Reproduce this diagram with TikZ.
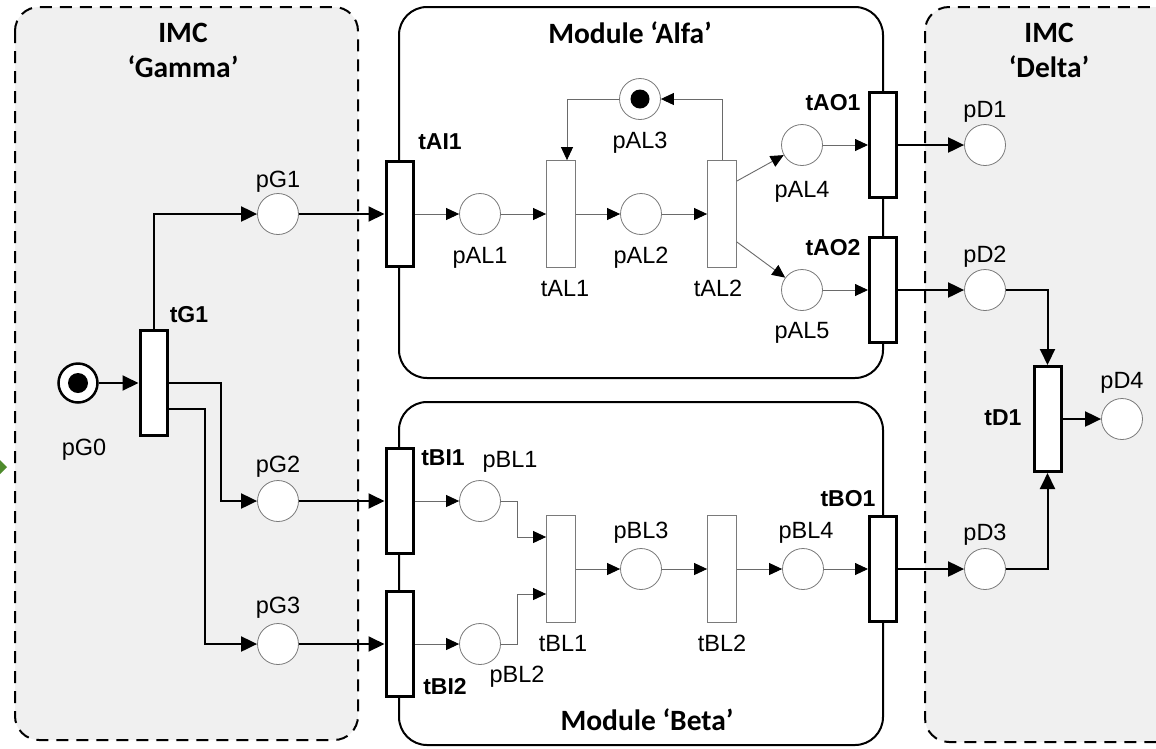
\documentclass[tikz,border=0pt]{standalone}
\usepackage{fontspec}
\setmainfont{Liberation Sans}
\newfontfamily\titlefont{Carlito}
\usetikzlibrary{arrows.meta}
\definecolor{boxfill}{HTML}{F0F0F0}
\definecolor{arcgray}{HTML}{6A6A6A}
\definecolor{ringgray}{HTML}{7A7A7A}
\definecolor{leafgreen}{HTML}{4E8B2C}
\begin{document}
\begin{tikzpicture}[x=1pt,y=-1pt,
  lbl/.style={font=\fontsize{23.5}{26}\selectfont, inner sep=0},
  blbl/.style={font=\fontsize{23}{26}\selectfont\bfseries, inner sep=0},
  ttl/.style={font=\titlefont\fontsize{29.5}{35}\selectfont\bfseries, inner sep=0, align=center},
  place/.style={circle, draw=ringgray, line width=0.8pt, fill=white, minimum size=41pt, inner sep=0},
  mplace/.style={circle, draw=black, line width=2.5pt, fill=white, minimum size=39pt, inner sep=0},
  itrans/.style={rectangle, draw=ringgray, line width=0.8pt, fill=white, minimum width=29pt, minimum height=107pt, inner sep=0},
  btrans/.style={rectangle, draw=black, line width=3pt, fill=white, minimum width=27pt, minimum height=105pt, inner sep=0},
  tk/.style={line width=2pt, -{Triangle[length=16pt,width=15pt]}},
  tn/.style={line width=0.9pt, arcgray, -{Triangle[length=13pt,width=12pt,color=black]}},
  imcbox/.style={draw=black, line width=2pt, dash pattern=on 12pt off 8pt, fill=boxfill, rounded corners=24pt},
  modbox/.style={draw=black, line width=2pt, fill=white, rounded corners=28pt},
]
\useasboundingbox (0,0) rectangle (1156,748);
\clip (0,0) rectangle (1156,748);
\fill[white] (0,0) rectangle (1156,748);

% containers
\draw[imcbox] (15,7) rectangle (358,740);
\draw[imcbox] (925,7) rectangle (1180,742);
\draw[modbox] (399,7) rectangle (883,378);
\draw[modbox] (399,402) rectangle (883,745);

% green marker at left edge
\fill[leafgreen] (-7,467) -- (0,460) -- (7,467) -- (0,474) -- cycle;

% titles
\node[ttl] (tGamma) at (183,50) {IMC\\‘Gamma’};
\node[ttl] (tDelta) at (1049,50) {IMC\\‘Delta’};
\node[ttl] (tAlfa) at (630,33) {Module ‘Alfa’};
\node[ttl] (tBeta) at (647,720) {Module ‘Beta’};

% places
\node[mplace] (pG0) at (78,383) {};
\node[place] (pG1) at (278,214) {};
\node[place] (pG2) at (278,501) {};
\node[place] (pG3) at (278,644) {};
\node[place] (pAL1) at (480,214) {};
\node[place] (pAL2) at (641,214) {};
\node[place] (pAL3) at (640,99) {};
\node[place] (pAL4) at (802,145) {};
\node[place] (pAL5) at (802,290) {};
\node[place] (pBL1) at (480,501) {};
\node[place] (pBL2) at (480,644) {};
\node[place] (pBL3) at (641,569) {};
\node[place] (pBL4) at (803,569) {};
\node[place] (pD1) at (985,145) {};
\node[place] (pD2) at (985,290) {};
\node[place] (pD3) at (985,569) {};
\node[place] (pD4) at (1122,419) {};
\fill (pG0) circle[radius=10pt];
\fill (pAL3) circle[radius=9.5pt];

% transitions
\node[btrans] (tG1) at (153.5,383) {};
\node[btrans] (tAI1) at (399.5,214) {};
\node[itrans] (tAL1) at (561,214) {};
\node[itrans] (tAL2) at (722,214) {};
\node[btrans] (tAO1) at (883,145) {};
\node[btrans] (tAO2) at (883,290) {};
\node[btrans] (tBI1) at (399.5,501) {};
\node[btrans] (tBI2) at (399.5,644) {};
\node[itrans] (tBL1) at (561,569) {};
\node[itrans] (tBL2) at (722,569) {};
\node[btrans] (tBO1) at (883,569) {};
\node[btrans] (tD1) at (1047.5,419) {};

% labels
\node[lbl] (lpG0) at (84,450) {pG0};
\node[lbl] (lpG1) at (278,182) {pG1};
\node[lbl] (lpG2) at (278,467) {pG2};
\node[lbl] (lpG3) at (278,608) {pG3};
\node[blbl] (ltG1) at (189,315) {tG1};
\node[blbl] (ltAI1) at (440,142) {tAI1};
\node[lbl] (lpAL1) at (480,258) {pAL1};
\node[lbl] (lpAL2) at (641,258) {pAL2};
\node[lbl] (lpAL3) at (640,143) {pAL3};
\node[lbl] (lpAL4) at (802,192) {pAL4};
\node[lbl] (lpAL5) at (802,333) {pAL5};
\node[lbl] (ltAL1) at (565,288) {tAL1};
\node[lbl] (ltAL2) at (718,288) {tAL2};
\node[blbl] (ltAO1) at (833,103) {tAO1};
\node[blbl] (ltAO2) at (833,248) {tAO2};
\node[lbl] (lpD1) at (985,112) {pD1};
\node[lbl] (lpD2) at (985,257) {pD2};
\node[lbl] (lpD3) at (985,535) {pD3};
\node[lbl] (lpD4) at (1122,383) {pD4};
\node[blbl] (ltD1) at (1003,418) {tD1};
\node[blbl] (ltBI1) at (443,458) {tBI1};
\node[blbl] (ltBI2) at (445,687) {tBI2};
\node[lbl] (lpBL1) at (510,462) {pBL1};
\node[lbl] (lpBL2) at (517,677) {pBL2};
\node[lbl] (lpBL3) at (641,533) {pBL3};
\node[lbl] (lpBL4) at (806,533) {pBL4};
\node[blbl] (ltBO1) at (848,499) {tBO1};
\node[lbl] (ltBL1) at (563,643) {tBL1};
\node[lbl] (ltBL2) at (722,643) {tBL2};

% thick arcs
\draw[tk] (pG0) -- (tG1);
\draw[tk] (tG1.north) |- (pG1);
\draw[tk] (tG1.east) -- ++(52,0) |- (pG2);
\draw[tk] ([yshift=-26pt]tG1.east) -- ++(36,0) |- (pG3);
\draw[tk] (pG1) -- (tAI1);
\draw[tk] (pG2) -- (tBI1);
\draw[tk] (pG3) -- (tBI2);
\draw[tk] (tAO1) -- (pD1);
\draw[tk] (tAO2) -- (pD2);
\draw[tk] (tBO1) -- (pD3);
\draw[tk] (pD2) -| (tD1);
\draw[tk] (pD3) -| (tD1);
\draw[tk] (tD1) -- (pD4);

% thin arcs
\draw[tn] (tAI1) -- (pAL1);
\draw[tn] (pAL1) -- (tAL1);
\draw[tn] (tAL1) -- (pAL2);
\draw[tn] (pAL2) -- (tAL2);
\draw[tn] (tAL2.north) |- (pAL3);
\draw[tn] (pAL3) -| ([xshift=6pt]tAL1.north);
\draw[tn] ([yshift=33pt]tAL2.east) -- (pAL4);
\draw[tn] ([yshift=-28pt]tAL2.east) -- (pAL5);
\draw[tn] (pAL4) -- (tAO1);
\draw[tn] (pAL5) -- (tAO2);
\draw[tn] (tBI1) -- (pBL1);
\draw[tn] (tBI2) -- (pBL2);
\draw[tn] (pBL1.east) -- ++(16.5,0) |- ([yshift=32pt]tBL1.west);
\draw[tn] (pBL2.east) -- ++(16.5,0) |- ([yshift=-25pt]tBL1.west);
\draw[tn] (tBL1) -- (pBL3);
\draw[tn] (pBL3) -- (tBL2);
\draw[tn] (tBL2) -- (pBL4);
\draw[tn] (pBL4) -- (tBO1);
\end{tikzpicture}
\end{document}
